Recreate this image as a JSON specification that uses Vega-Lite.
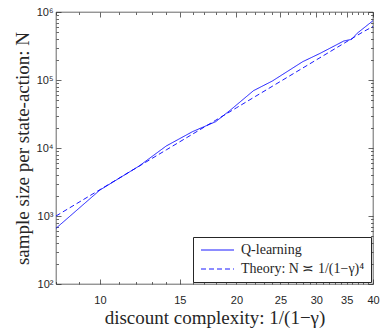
{
  "$schema": "https://vega.github.io/schema/vega-lite/v6.json",
  "width": 317,
  "height": 272,
  "autosize": "none",
  "padding": {"left": 56, "top": 12, "right": 9, "bottom": 47},
  "background": "white",
  "config": {
    "view": {"stroke": "#262626", "strokeWidth": 0.7},
    "axis": {
      "grid": false,
      "domain": false,
      "tickColor": "#262626",
      "tickWidth": 0.7,
      "labelColor": "#262626",
      "labelFont": "Liberation Sans",
      "labelFontSize": 11,
      "titleFont": "Liberation Serif",
      "titleFontSize": 19,
      "titleFontWeight": "normal",
      "titleColor": "#262626"
    }
  },
  "data": {
    "values": [
      {"x": 8, "N": 659, "series": "Q-learning"},
      {"x": 10, "N": 2410, "series": "Q-learning"},
      {"x": 12.2, "N": 5430, "series": "Q-learning"},
      {"x": 14, "N": 10700, "series": "Q-learning"},
      {"x": 16, "N": 17400, "series": "Q-learning"},
      {"x": 18, "N": 24400, "series": "Q-learning"},
      {"x": 19.4, "N": 36200, "series": "Q-learning"},
      {"x": 21.8, "N": 69600, "series": "Q-learning"},
      {"x": 24, "N": 96700, "series": "Q-learning"},
      {"x": 28, "N": 186000, "series": "Q-learning"},
      {"x": 30.6, "N": 247000, "series": "Q-learning"},
      {"x": 34.5, "N": 375000, "series": "Q-learning"},
      {"x": 35.9, "N": 396000, "series": "Q-learning"},
      {"x": 36.9, "N": 486000, "series": "Q-learning"},
      {"x": 40, "N": 745000, "series": "Q-learning"},
      {"x": 8, "N": 1000, "series": "Theory: N ≍ 1/(1−γ)⁴"},
      {"x": 10, "N": 2440, "series": "Theory: N ≍ 1/(1−γ)⁴"},
      {"x": 12, "N": 5060, "series": "Theory: N ≍ 1/(1−γ)⁴"},
      {"x": 14, "N": 9370, "series": "Theory: N ≍ 1/(1−γ)⁴"},
      {"x": 16, "N": 15990, "series": "Theory: N ≍ 1/(1−γ)⁴"},
      {"x": 18, "N": 25610, "series": "Theory: N ≍ 1/(1−γ)⁴"},
      {"x": 20, "N": 39040, "series": "Theory: N ≍ 1/(1−γ)⁴"},
      {"x": 22, "N": 57160, "series": "Theory: N ≍ 1/(1−γ)⁴"},
      {"x": 24, "N": 80960, "series": "Theory: N ≍ 1/(1−γ)⁴"},
      {"x": 26, "N": 111500, "series": "Theory: N ≍ 1/(1−γ)⁴"},
      {"x": 28, "N": 149960, "series": "Theory: N ≍ 1/(1−γ)⁴"},
      {"x": 30, "N": 197640, "series": "Theory: N ≍ 1/(1−γ)⁴"},
      {"x": 32, "N": 255850, "series": "Theory: N ≍ 1/(1−γ)⁴"},
      {"x": 34, "N": 326050, "series": "Theory: N ≍ 1/(1−γ)⁴"},
      {"x": 36, "N": 409820, "series": "Theory: N ≍ 1/(1−γ)⁴"},
      {"x": 38, "N": 508830, "series": "Theory: N ≍ 1/(1−γ)⁴"},
      {"x": 40, "N": 612000, "series": "Theory: N ≍ 1/(1−γ)⁴"}
    ]
  },
  "layer": [
    {
      "mark": {"type": "line", "strokeWidth": 0.9, "clip": true},
      "encoding": {
        "x": {
          "field": "x", "type": "quantitative",
          "scale": {"type": "log", "domain": [8, 40], "nice": false},
          "axis": {
            "orient": "bottom",
            "values": [8,9,10,11,12,13,14,15,16,17,18,19,20,21,22,23,24,25,26,27,28,29,30,31,32,33,34,35,36,37,38,39,40],
            "labelExpr": "indexof([10,15,20,25,30,35,40], datum.value) >= 0 ? toString(datum.value) : ''",
            "tickSize": {"condition": {"test": "indexof([10,15,20,25,30,35,40], datum.value) >= 0", "value": -5}, "value": -2.5},
            "labelPadding": 15,
            "labelFlush": false,
            "labelOverlap": false,
            "title": "discount complexity: 1/(1−γ)",
            "titlePadding": 1
          }
        },
        "y": {
          "field": "N", "type": "quantitative",
          "scale": {"type": "log", "domain": [100, 1000000], "nice": false},
          "axis": {
            "orient": "left",
            "values": [100,200,300,400,500,600,700,800,900,1000,2000,3000,4000,5000,6000,7000,8000,9000,10000,20000,30000,40000,50000,60000,70000,80000,90000,100000,200000,300000,400000,500000,600000,700000,800000,900000,1000000],
            "labelExpr": "abs(log(datum.value)/LN10 - round(log(datum.value)/LN10)) < 0.000001 ? '10' + ['⁰','¹','²','³','⁴','⁵','⁶'][round(log(datum.value)/LN10)] : ''",
            "tickSize": {"condition": {"test": "abs(log(datum.value)/LN10 - round(log(datum.value)/LN10)) < 0.000001", "value": -5}, "value": -2.5},
            "labelPadding": 8,
            "labelFlush": false,
            "labelOverlap": false,
            "title": "sample size per state-action: N",
            "titlePadding": 4
          }
        },
        "color": {
          "field": "series", "type": "nominal",
          "scale": {"domain": ["Q-learning", "Theory: N ≍ 1/(1−γ)⁴"], "range": ["#0000ff", "#0000ff"]},
          "legend": {
            "title": null,
            "orient": "none",
            "legendX": 137,
            "legendY": 225,
            "symbolType": "M-1,0H5.6",
            "symbolSize": 100,
            "symbolStrokeWidth": 0.9,
            "labelOffset": 28,
            "labelFont": "Liberation Serif",
            "labelFontSize": 14,
            "labelColor": "#262626",
            "labelLimit": 400,
            "strokeColor": "#262626",
            "fillColor": "white",
            "padding": 6,
            "rowPadding": 5
          }
        },
        "strokeDash": {
          "field": "series", "type": "nominal",
          "scale": {"domain": ["Q-learning", "Theory: N ≍ 1/(1−γ)⁴"], "range": [[1, 0], [5, 3]]},
          "legend": {
            "title": null,
            "orient": "none",
            "legendX": 137,
            "legendY": 225,
            "symbolType": "M-1,0H5.6",
            "symbolSize": 100,
            "symbolStrokeWidth": 0.9,
            "labelOffset": 28,
            "labelFont": "Liberation Serif",
            "labelFontSize": 14,
            "labelColor": "#262626",
            "labelLimit": 400,
            "strokeColor": "#262626",
            "fillColor": "white",
            "padding": 6,
            "rowPadding": 5
          }
        }
      }
    },
    {
      "mark": {"type": "line", "strokeOpacity": 0},
      "encoding": {
        "x": {
          "field": "x", "type": "quantitative",
          "scale": {"type": "log", "domain": [8, 40], "nice": false},
          "axis": {
            "orient": "top",
            "values": [8,9,10,11,12,13,14,15,16,17,18,19,20,21,22,23,24,25,26,27,28,29,30,31,32,33,34,35,36,37,38,39,40],
            "labels": false,
            "tickSize": {"condition": {"test": "indexof([10,15,20,25,30,35,40], datum.value) >= 0", "value": -5}, "value": -2.5},
            "title": null
          }
        },
        "y": {
          "field": "N", "type": "quantitative",
          "scale": {"type": "log", "domain": [100, 1000000], "nice": false},
          "axis": {
            "orient": "right",
            "values": [100,200,300,400,500,600,700,800,900,1000,2000,3000,4000,5000,6000,7000,8000,9000,10000,20000,30000,40000,50000,60000,70000,80000,90000,100000,200000,300000,400000,500000,600000,700000,800000,900000,1000000],
            "labels": false,
            "tickSize": {"condition": {"test": "abs(log(datum.value)/LN10 - round(log(datum.value)/LN10)) < 0.000001", "value": -5}, "value": -2.5},
            "title": null
          }
        },
        "detail": {"field": "series", "type": "nominal"}
      }
    }
  ],
  "resolve": {"axis": {"x": "independent", "y": "independent"}}
}
